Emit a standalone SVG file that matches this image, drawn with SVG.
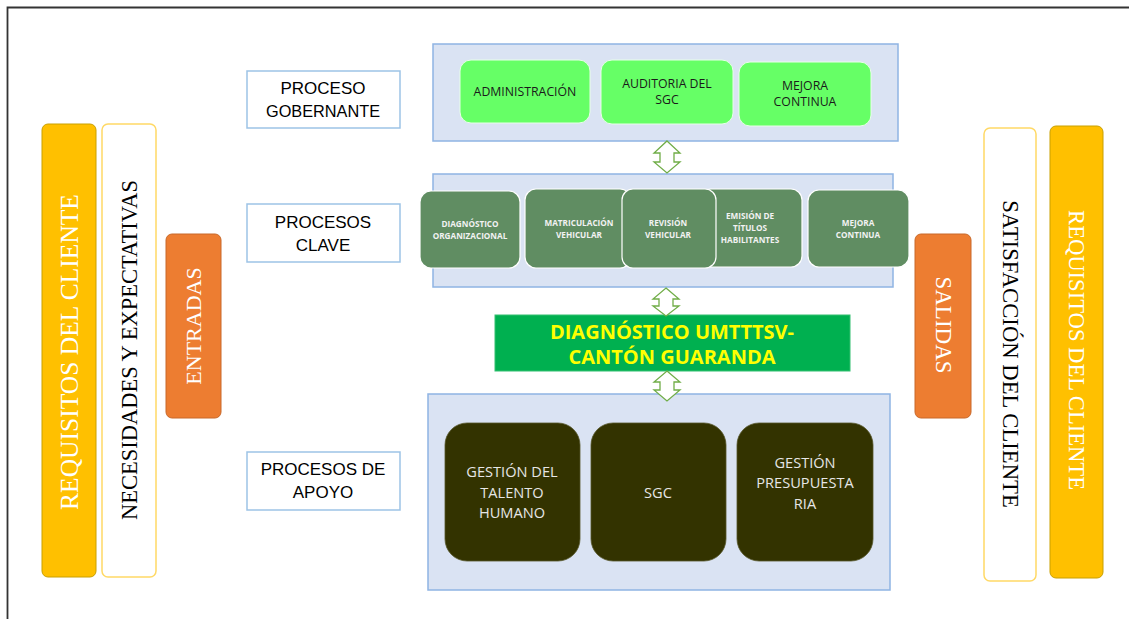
<svg xmlns="http://www.w3.org/2000/svg" width="1129" height="619" viewBox="0 0 1129 619">
<defs>
<style>
.serif{font-family:"Liberation Serif","Times New Roman",serif;text-anchor:middle;dominant-baseline:central}
.sans{font-family:"Open Sans","Liberation Sans",Arial,sans-serif;text-anchor:middle;dominant-baseline:central}
.lab{font-family:"Liberation Sans",Arial,sans-serif;text-anchor:middle;dominant-baseline:central;fill:#000000}
.yel{fill:#FFC000;stroke:#C9A000;stroke-width:1}
.wht{fill:#FFFFFF;stroke:#FFD966;stroke-width:1.5}
.org{fill:#ED7D31;stroke:#C8692A;stroke-width:1}
.lbl{fill:#FFFFFF;stroke:#9DC3E6;stroke-width:1.5}
.cont{fill:#DAE3F3;stroke:#8FB4E3;stroke-width:1.5}
.lg{fill:#66FF66;stroke:#E8FFE8;stroke-width:1}
.mg{fill:#608D62;stroke:#FFFFFF;stroke-width:1.2}
.dk{fill:#333300;stroke:#55552a;stroke-width:0.8}
.arr{fill:#FFFFFF;stroke:#70AD47;stroke-width:1.3}
</style>
</defs>
<rect x="0" y="0" width="1129" height="619" fill="#FFFFFF"/>
<path d="M7.5,640 L7.5,7.5 L1140,7.5" fill="none" stroke="#333333" stroke-width="1.8"/>

<g id="req-left"><rect class="yel" x="42" y="124" width="54" height="453" rx="6"/>
<text class="serif" transform="translate(69,352) rotate(-90)" font-size="25.5" fill="#FFFFFF">REQUISITOS DEL CLIENTE</text></g>
<g id="necesidades"><rect class="wht" x="102" y="124" width="54" height="453" rx="6"/>
<text class="serif" transform="translate(129,350) rotate(-90)" font-size="22.5" fill="#000000">NECESIDADES Y EXPECTATIVAS</text></g>
<g id="entradas"><rect class="org" x="166" y="234" width="55" height="184" rx="6"/>
<text class="serif" transform="translate(193,326) rotate(-90)" font-size="22" fill="#FFFFFF">ENTRADAS</text></g>

<g id="lbl-gob"><rect class="lbl" x="247" y="71" width="153" height="57"/>
<text class="lab" x="323" y="88" font-size="17">PROCESO</text>
<text class="lab" x="323" y="111" font-size="16.3">GOBERNANTE</text></g>
<g id="lbl-clave"><rect class="lbl" x="247" y="204" width="153" height="58"/>
<text class="lab" x="323" y="222" font-size="17">PROCESOS</text>
<text class="lab" x="323" y="245" font-size="17">CLAVE</text></g>
<g id="lbl-apoyo"><rect class="lbl" x="247" y="452" width="153" height="58"/>
<text class="lab" x="323" y="469" font-size="17">PROCESOS DE</text>
<text class="lab" x="323" y="492" font-size="17">APOYO</text></g>

<g id="gob"><rect class="cont" x="433" y="44" width="465" height="97"/>
<g id="administracion"><rect class="lg" x="460" y="60" width="130" height="63" rx="11"/>
<text class="sans" x="525" y="91" font-size="12.3" fill="#1a1a1a">ADMINISTRACIÓN</text></g>
<g id="auditoria"><rect class="lg" x="601" y="60" width="132" height="64" rx="11"/>
<text class="sans" x="667" y="83" font-size="12.3" fill="#1a1a1a">AUDITORIA DEL</text>
<text class="sans" x="667" y="99" font-size="12.3" fill="#1a1a1a">SGC</text></g>
<g id="mejora1"><rect class="lg" x="739" y="62" width="132" height="64" rx="11"/>
<text class="sans" x="805" y="85" font-size="12.3" fill="#1a1a1a">MEJORA</text>
<text class="sans" x="805" y="101" font-size="12.3" fill="#1a1a1a">CONTINUA</text></g>
</g>

<g id="clave"><rect class="cont" x="433" y="174" width="460" height="113"/>
<g id="diagnostico-org"><rect class="mg" x="420" y="191" width="100" height="77" rx="11"/>
<text class="sans" x="470" y="223" font-size="8.2" font-weight="bold" fill="#F2F2F2">DIAGNÓSTICO</text>
<text class="sans" x="470" y="235" font-size="8.2" font-weight="bold" fill="#F2F2F2">ORGANIZACIONAL</text></g>
<g id="matriculacion"><rect class="mg" x="525" y="189" width="106" height="79" rx="11"/>
<text class="sans" x="579" y="222" font-size="8.2" font-weight="bold" fill="#F2F2F2">MATRICULACIÓN</text>
<text class="sans" x="579" y="234" font-size="8.2" font-weight="bold" fill="#F2F2F2">VEHICULAR</text></g>
<g id="emision"><rect class="mg" x="700" y="189" width="102" height="78" rx="11"/>
<text class="sans" x="750" y="215" font-size="8.2" font-weight="bold" fill="#F2F2F2">EMISIÓN DE</text>
<text class="sans" x="750" y="227" font-size="8.2" font-weight="bold" fill="#F2F2F2">TÍTULOS</text>
<text class="sans" x="750" y="239" font-size="8.2" font-weight="bold" fill="#F2F2F2">HABILITANTES</text></g>
<g id="revision"><rect class="mg" x="622" y="189" width="94" height="79" rx="11"/>
<text class="sans" x="668" y="222" font-size="8.2" font-weight="bold" fill="#F2F2F2">REVISIÓN</text>
<text class="sans" x="668" y="234" font-size="8.2" font-weight="bold" fill="#F2F2F2">VEHICULAR</text></g>
<g id="mejora2"><rect class="mg" x="808" y="190" width="101" height="77" rx="11"/>
<text class="sans" x="858" y="222" font-size="8.2" font-weight="bold" fill="#F2F2F2">MEJORA</text>
<text class="sans" x="858" y="234" font-size="8.2" font-weight="bold" fill="#F2F2F2">CONTINUA</text></g>
</g>

<g id="diagnostico"><rect x="495" y="315" width="355" height="56" fill="#00B050" stroke="#33C070" stroke-width="1"/>
<text class="sans" x="672" y="331" font-size="20" font-weight="bold" fill="#FFFF00">DIAGNÓSTICO UMTTTSV-</text>
<text class="sans" x="672" y="356" font-size="20" font-weight="bold" fill="#FFFF00">CANTÓN GUARANDA</text></g>

<g id="apoyo"><rect class="cont" x="428" y="394" width="462" height="196"/>
<g id="talento"><rect class="dk" x="445" y="423" width="135" height="138" rx="22"/>
<text class="sans" x="512" y="471" font-size="14.6" fill="#E6E6E6">GESTIÓN DEL</text>
<text class="sans" x="512" y="492" font-size="14.6" fill="#E6E6E6">TALENTO</text>
<text class="sans" x="512" y="512" font-size="14.6" fill="#E6E6E6">HUMANO</text></g>
<g id="sgc"><rect class="dk" x="591" y="423" width="135" height="138" rx="22"/>
<text class="sans" x="658" y="492" font-size="14.6" fill="#E6E6E6">SGC</text></g>
<g id="presupuesto"><rect class="dk" x="737" y="423" width="136" height="138" rx="22"/>
<text class="sans" x="805" y="462" font-size="14.6" fill="#E6E6E6">GESTIÓN</text>
<text class="sans" x="805" y="482" font-size="14.6" fill="#E6E6E6">PRESUPUESTA</text>
<text class="sans" x="805" y="503" font-size="14.6" fill="#E6E6E6">RIA</text></g>
</g>

<g id="connectors">
<path class="arr" d="M667,141 L680,153 L674,153 L674,162 L680,162 L667,173 L654,162 L660,162 L660,153 L654,153 Z"/>
<path class="arr" d="M666,288 L679,299 L673,299 L673,306 L679,306 L666,316 L653,306 L659,306 L659,299 L653,299 Z"/>
<path class="arr" d="M667,371 L680,382 L674,382 L674,390 L680,390 L667,401 L654,390 L660,390 L660,382 L654,382 Z"/>
</g>

<g id="salidas"><rect class="org" x="915" y="234" width="56" height="184" rx="6"/>
<text class="serif" transform="translate(943,325) rotate(90)" font-size="23" fill="#FFFFFF">SALIDAS</text></g>
<g id="satisfaccion"><rect class="wht" x="984" y="128" width="52" height="453" rx="6"/>
<text class="serif" transform="translate(1010,354) rotate(90)" font-size="22.7" fill="#000000">SATISFACCIÓN DEL CLIENTE</text></g>
<g id="req-right"><rect class="yel" x="1050" y="126" width="53" height="452" rx="6"/>
<text class="serif" transform="translate(1076,350) rotate(90)" font-size="22.6" fill="#FFFFFF">REQUISITOS DEL CLIENTE</text></g>
</svg>
